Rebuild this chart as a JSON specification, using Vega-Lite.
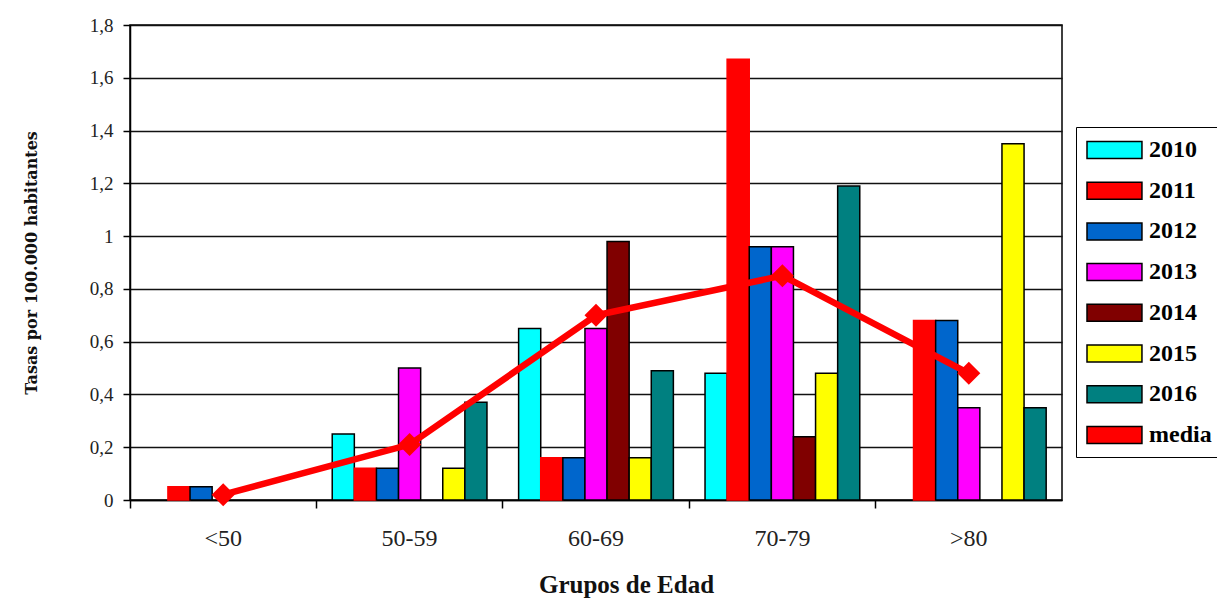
{
  "$schema": "https://vega.github.io/schema/vega-lite/v6.json",
  "width": 932,
  "height": 475,
  "autosize": {"type": "none"},
  "padding": {"left": 130, "top": 25, "right": 155, "bottom": 101},
  "background": "white",
  "datasets": {
    "tasas": [
      {"grupo": "<50", "year": "2011", "tasa": 0.05},
      {"grupo": "<50", "year": "2012", "tasa": 0.05},
      {"grupo": "50-59", "year": "2010", "tasa": 0.25},
      {"grupo": "50-59", "year": "2011", "tasa": 0.12},
      {"grupo": "50-59", "year": "2012", "tasa": 0.12},
      {"grupo": "50-59", "year": "2013", "tasa": 0.5},
      {"grupo": "50-59", "year": "2015", "tasa": 0.12},
      {"grupo": "50-59", "year": "2016", "tasa": 0.37},
      {"grupo": "60-69", "year": "2010", "tasa": 0.65},
      {"grupo": "60-69", "year": "2011", "tasa": 0.16},
      {"grupo": "60-69", "year": "2012", "tasa": 0.16},
      {"grupo": "60-69", "year": "2013", "tasa": 0.65},
      {"grupo": "60-69", "year": "2014", "tasa": 0.98},
      {"grupo": "60-69", "year": "2015", "tasa": 0.16},
      {"grupo": "60-69", "year": "2016", "tasa": 0.49},
      {"grupo": "70-79", "year": "2010", "tasa": 0.48},
      {"grupo": "70-79", "year": "2011", "tasa": 1.67},
      {"grupo": "70-79", "year": "2012", "tasa": 0.96},
      {"grupo": "70-79", "year": "2013", "tasa": 0.96},
      {"grupo": "70-79", "year": "2014", "tasa": 0.24},
      {"grupo": "70-79", "year": "2015", "tasa": 0.48},
      {"grupo": "70-79", "year": "2016", "tasa": 1.19},
      {"grupo": ">80", "year": "2011", "tasa": 0.68},
      {"grupo": ">80", "year": "2012", "tasa": 0.68},
      {"grupo": ">80", "year": "2013", "tasa": 0.35},
      {"grupo": ">80", "year": "2015", "tasa": 1.35},
      {"grupo": ">80", "year": "2016", "tasa": 0.35}
    ],
    "media": [
      {"grupo": "<50", "tasa": 0.02},
      {"grupo": "50-59", "tasa": 0.21},
      {"grupo": "60-69", "tasa": 0.7},
      {"grupo": "70-79", "tasa": 0.85},
      {"grupo": ">80", "tasa": 0.48}
    ]
  },
  "encoding": {
    "x": {
      "field": "grupo",
      "type": "nominal",
      "sort": ["<50", "50-59", "60-69", "70-79", ">80"],
      "scale": {"paddingInner": 0, "paddingOuter": 0},
      "axis": {
        "title": "Grupos de Edad",
        "bandPosition": 0,
        "labelAngle": 0,
        "labelFont": "Liberation Serif",
        "labelFontSize": 24,
        "labelColor": "#222222",
        "labelPadding": 18,
        "tickSize": 8,
        "tickColor": "#000000",
        "tickWidth": 1.5,
        "domainColor": "#000000",
        "domainWidth": 1.5,
        "grid": false,
        "titleFont": "Liberation Serif",
        "titleFontSize": 25,
        "titleFontWeight": "bold",
        "titleColor": "#111111",
        "titlePadding": 22,
        "titleX": 496
      }
    },
    "y": {
      "field": "tasa",
      "type": "quantitative",
      "scale": {"domain": [0, 1.8], "nice": false},
      "axis": {
        "title": "Tasas por 100.000 habitantes",
        "values": [0, 0.2, 0.4, 0.6, 0.8, 1, 1.2, 1.4, 1.6, 1.8],
        "labelExpr": "replace(format(datum.value, '.1~f'), '.', ',')",
        "labelFont": "Liberation Serif",
        "labelFontSize": 19,
        "labelColor": "#222222",
        "labelPadding": 10,
        "tickSize": 7,
        "tickColor": "#000000",
        "tickWidth": 1.5,
        "domainColor": "#000000",
        "domainWidth": 1.5,
        "grid": true,
        "gridColor": "#111111",
        "gridWidth": 1.4,
        "titleFont": "DejaVu Serif",
        "titleFontSize": 16,
        "titleFontWeight": "bold",
        "titleColor": "#111111",
        "titlePadding": 50
      }
    }
  },
  "layer": [
    {
      "data": {"name": "tasas"},
      "mark": {"type": "bar", "strokeWidth": 1.5},
      "encoding": {
        "xOffset": {
          "field": "year",
          "type": "nominal",
          "scale": {
            "domain": ["2010", "2011", "2012", "2013", "2014", "2015", "2016"],
            "paddingInner": 0,
            "paddingOuter": 0.716
          }
        },
        "color": {
          "field": "year",
          "type": "nominal",
          "scale": {
            "domain": ["2010", "2011", "2012", "2013", "2014", "2015", "2016", "media"],
            "range": ["#00ffff", "#ff0000", "#0066cc", "#ff00ff", "#800000", "#ffff00", "#008080", "#ff0000"]
          },
          "legend": {
            "title": null,
            "orient": "none",
            "legendX": 946,
            "legendY": 102,
            "padding": 10,
            "strokeColor": "#000000",
            "fillColor": "#ffffff",
            "labelFont": "Liberation Serif",
            "labelFontSize": 24,
            "labelFontWeight": "bold",
            "labelColor": "#000000",
            "labelOffset": 37,
            "rowPadding": 15.7,
            "symbolSize": 576,
            "symbolOpacity": 1,
            "symbolType": "M-1,-0.71H3.58V0.71H-1Z",
            "symbolStrokeColor": "#000000",
            "symbolStrokeWidth": 1.5
          }
        },
        "stroke": {
          "condition": {"test": "datum.year === '2011'", "value": "#ff0000"},
          "value": "#000000"
        }
      }
    },
    {
      "data": {"name": "media"},
      "mark": {
        "type": "line",
        "color": "#ff0000",
        "strokeWidth": 6.5,
        "point": {"shape": "diamond", "size": 530, "filled": true, "color": "#ff0000"}
      },
      "encoding": {}
    }
  ],
  "config": {
    "view": {"stroke": "#000000", "strokeWidth": 1.5},
    "font": "Liberation Serif"
  }
}
